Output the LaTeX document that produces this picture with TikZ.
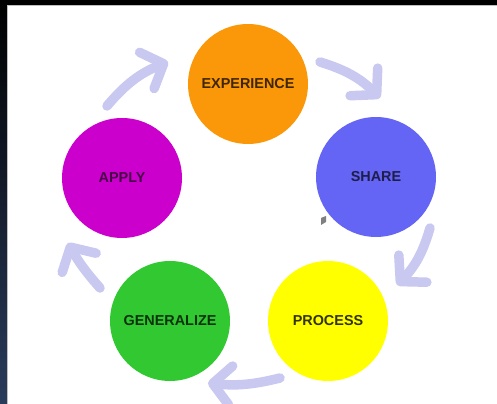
\documentclass[tikz,border=0pt]{standalone}
\usepackage{fontspec}
\setsansfont{Liberation Sans}
\usetikzlibrary{arrows.meta}

\definecolor{expcol}{RGB}{250,152,10}
\definecolor{sharecol}{RGB}{100,100,245}
\definecolor{proccol}{RGB}{255,255,0}
\definecolor{gencol}{RGB}{50,200,50}
\definecolor{applycol}{RGB}{204,0,204}
\definecolor{cyccol}{RGB}{200,200,240}
\definecolor{framecol}{RGB}{42,60,92}

\begin{document}
\begin{tikzpicture}[x=0.02cm, y=-0.02cm,
  stage/.style={circle, minimum size=2.4cm, inner sep=0pt, font=\sffamily\bfseries\fontsize{8.2}{10}\selectfont},
  cyc/.style={draw=cyccol, line width=0.19cm, line cap=round,
    -{Straight Barb[length=0.36cm, width=0.78cm, line cap=round, line join=round]}}]
\useasboundingbox (0,0) rectangle (497,404);
\fill[white] (0,0) rectangle (497,404);
% dark frame
\shade[top color=black, bottom color=framecol] (0,0) rectangle (7,404);
\fill[black] (0,0) rectangle (497,5);
\draw[gray!50, line width=0.6pt] (7.5,404) -- (7.5,5.5) -- (497,5.5);

% stages
\node[stage, fill=expcol, text=expcol!25!black] (exp) at (248,84) {EXPERIENCE};
\node[stage, fill=sharecol, text=sharecol!30!black] (share) at (376,177) {SHARE};
\node[stage, fill=proccol, text=proccol!20!black] (proc) at (328,321) {PROCESS};
\node[stage, fill=gencol, text=gencol!25!black] (gen) at (170,321) {GENERALIZE};
\node[stage, fill=applycol, text=applycol!35!black] (apply) at (122,178) {APPLY};

% arrows round the cycle
\coordinate (apS) at (107,106);
\coordinate (apE) at (168,62);
\coordinate (exS) at (320,62);
\coordinate (exE) at (380,98);
\coordinate (shS) at (430,228);
\coordinate (shE) at (397,285);
\coordinate (prS) at (280,378);
\coordinate (prE) at (208,383);
\coordinate (geS) at (100,288);
\coordinate (geE) at (68,243);
\draw[cyc] (apS) to[bend left=14] (apE);
\draw[cyc] (exS) to[bend left=14] (exE);
\draw[cyc] (shS) to[bend left=14] (shE);
\draw[cyc] (prS) to[bend left=10] (prE);
\draw[cyc] (geS) to[bend left=6] (geE);

% small mark
\fill[gray] (321,218) -- (326,216) -- (326,222) -- (321,225) -- cycle;
\end{tikzpicture}
\end{document}
